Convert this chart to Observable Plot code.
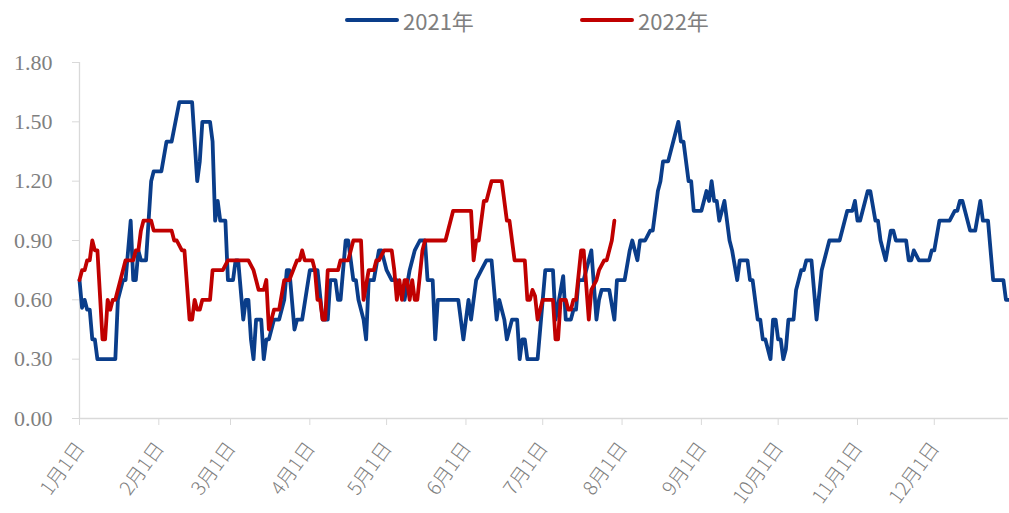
<!DOCTYPE html>
<html><head><meta charset="utf-8">
<script src="https://cdn.jsdelivr.net/npm/d3@7"></script>
<script src="https://cdn.jsdelivr.net/npm/@observablehq/plot@0.6"></script>
<style>
html,body{margin:0;padding:0;background:#fff;}
body{width:1009px;height:513px;overflow:hidden;font-family:"Noto Sans CJK SC","Noto Sans",sans-serif;}
#legend{position:relative;height:40px;}
.sw{position:absolute;top:18px;width:54px;height:4px;border-radius:2px;}
.lt{position:absolute;top:5px;font-size:22px;line-height:30px;color:#7f7f7f;}
#chart svg{display:block;}
</style></head><body>
<div id="legend"></div>
<div id="chart"></div>
<script>
// Day offsets from 1 January, with read values (2021 series)
const days2021 = [0,1,2,3,4,5,6,7,14,15,17,18,20,21,22,23,24,26,27,28,29,32,34,36,39,44,46,47,48,51,52,53,54,55,57,58,60,61,62,64,65,66,67,68,69,71,72,73,74,76,78,80,81,82,84,85,87,90,93,95,97,98,100,101,102,104,105,107,108,109,111,112,113,115,117,118,120,122,124,127,129,131,133,135,136,138,139,140,148,150,152,153,155,157,159,161,163,164,166,167,169,171,172,173,174,175,179,181,182,185,186,189,190,192,193,194,195,197,199,200,202,203,204,207,209,210,213,215,216,218,219,221,223,224,226,227,228,230,234,235,236,238,239,240,243,245,246,247,248,249,250,252,254,255,257,258,261,262,263,265,266,267,268,270,271,272,273,274,275,276,277,279,280,282,283,284,286,288,290,291,293,297,300,302,303,304,305,308,309,311,312,313,315,317,318,319,323,324,325,326,328,332,333,334,336,340,342,343,344,345,348,350,352,353,355,357,361,362,363];
const values2021 = [0.70,0.56,0.60,0.55,0.55,0.40,0.40,0.30,0.30,0.60,0.70,0.70,1.00,0.70,0.70,0.85,0.80,0.80,1.00,1.20,1.25,1.25,1.40,1.40,1.60,1.60,1.20,1.30,1.50,1.50,1.40,1.00,1.10,1.00,1.00,0.70,0.70,0.80,0.80,0.50,0.60,0.60,0.40,0.30,0.50,0.50,0.30,0.40,0.40,0.50,0.50,0.60,0.75,0.75,0.45,0.50,0.50,0.75,0.75,0.50,0.50,0.70,0.70,0.60,0.60,0.90,0.90,0.70,0.70,0.60,0.50,0.40,0.70,0.70,0.85,0.85,0.75,0.70,0.70,0.60,0.75,0.85,0.90,0.90,0.70,0.70,0.40,0.60,0.60,0.40,0.60,0.50,0.70,0.75,0.80,0.80,0.50,0.60,0.50,0.40,0.50,0.50,0.30,0.40,0.40,0.30,0.30,0.60,0.75,0.75,0.50,0.72,0.50,0.50,0.55,0.55,0.70,0.70,0.80,0.85,0.50,0.60,0.65,0.65,0.50,0.70,0.70,0.85,0.90,0.80,0.90,0.90,0.95,0.95,1.15,1.20,1.30,1.30,1.50,1.40,1.40,1.20,1.20,1.05,1.05,1.15,1.10,1.20,1.10,1.10,1.00,1.10,0.90,0.85,0.70,0.80,0.80,0.70,0.70,0.50,0.50,0.40,0.40,0.30,0.50,0.50,0.40,0.40,0.30,0.35,0.50,0.50,0.65,0.75,0.75,0.80,0.80,0.50,0.75,0.80,0.90,0.90,1.05,1.05,1.10,1.00,1.00,1.15,1.15,1.00,1.00,0.90,0.80,0.95,0.95,0.90,0.90,0.80,0.80,0.85,0.80,0.80,0.85,0.85,1.00,1.00,1.05,1.05,1.10,1.10,0.95,0.95,1.10,1.00,1.00,0.70,0.70,0.60,0.60];
// 2022 series
const days2022 = [0,1,2,3,4,5,6,7,9,10,11,12,13,14,18,21,22,23,24,25,28,29,36,37,38,40,41,43,44,45,46,47,48,51,52,56,58,66,68,69,70,72,73,74,76,78,80,82,85,86,87,88,91,92,93,94,95,96,97,101,102,105,107,110,111,113,115,116,117,119,122,123,124,125,126,127,128,129,130,131,132,134,135,143,146,153,154,155,156,158,159,161,165,167,168,170,174,175,176,177,178,179,181,185,186,187,188,190,191,192,193,194,196,197,199,200,202,203,205,206,207,208,209];
const values2022 = [0.70,0.75,0.75,0.80,0.80,0.90,0.85,0.85,0.40,0.40,0.60,0.55,0.60,0.60,0.80,0.80,0.85,0.85,0.95,1.00,1.00,0.95,0.95,0.90,0.90,0.85,0.85,0.50,0.50,0.60,0.55,0.55,0.60,0.60,0.75,0.75,0.80,0.80,0.75,0.70,0.65,0.65,0.70,0.45,0.55,0.55,0.70,0.70,0.80,0.80,0.85,0.80,0.80,0.75,0.60,0.60,0.50,0.50,0.75,0.75,0.80,0.80,0.90,0.90,0.60,0.75,0.75,0.80,0.80,0.85,0.85,0.75,0.60,0.70,0.60,0.70,0.70,0.60,0.70,0.60,0.60,0.85,0.90,0.90,1.05,1.05,0.80,0.90,0.90,1.10,1.10,1.20,1.20,1.00,1.00,0.80,0.80,0.60,0.60,0.65,0.62,0.50,0.60,0.60,0.40,0.40,0.60,0.60,0.55,0.55,0.60,0.60,0.85,0.85,0.50,0.65,0.70,0.75,0.80,0.80,0.85,0.90,1.00];
const seriesNames = ["2021年","2022年"];
const seriesColors = ["#0A3D8A","#C00000"];
const yTicks = [0,0.3,0.6,0.9,1.2,1.5,1.8];
const xTickLabels = ["1月1日","2月1日","3月1日","4月1日","5月1日","6月1日","7月1日","8月1日","9月1日","10月1日","11月1日","12月1日"];

const base = new Date(Date.UTC(2021,0,1));
const toDate = d => d3.utcDay.offset(base, d);
const rows = [];
days2021.forEach((d,i)=>rows.push({series:seriesNames[0], date:toDate(d), value:values2021[i]}));
days2022.forEach((d,i)=>rows.push({series:seriesNames[1], date:toDate(d), value:values2022[i]}));
const monthStarts = xTickLabels.map((_,m)=>new Date(Date.UTC(2021,m,1)));
const xEnd = toDate(363);

// legend
const lg = document.getElementById("legend");
const lgPos = [345, 580];
seriesNames.forEach((n,i)=>{
  const s=document.createElement("div"); s.className="sw"; s.style.left=lgPos[i]+"px"; s.style.background=seriesColors[i]; lg.appendChild(s);
  const t=document.createElement("div"); t.className="lt"; t.style.left=(lgPos[i]+58)+"px"; t.textContent=n; lg.appendChild(t);
});

const chart = Plot.plot({
  width:1009, height:473,
  marginLeft:79, marginRight:1, marginTop:22, marginBottom:95,
  x:{type:"utc", domain:[base, xEnd]},
  y:{domain:[0,1.8]},
  color:{domain:seriesNames, range:seriesColors},
  style:{background:"transparent", overflow:"visible"},
  marks:[
    Plot.ruleX([base], {y1:0, y2:1.8, stroke:"#d9d9d9", strokeWidth:1.3}),
    Plot.ruleY([0], {stroke:"#d9d9d9", strokeWidth:1.3}),
    Plot.axisY(yTicks, {tickSize:7, tickPadding:20, tickFormat:d=>d.toFixed(2), stroke:"#d9d9d9", fill:"#7f7f7f", fontSize:22, fontFamily:"Liberation Serif", label:null}),
    Plot.axisX(monthStarts, {tickSize:7, tickFormat:()=>"", stroke:"#d9d9d9", label:null}),
    Plot.axisX(monthStarts, {tickSize:0, tickPadding:26, dx:1, tickRotate:-54, tickFormat:d=>xTickLabels[d.getUTCMonth()], fill:"#7f7f7f", fontSize:19.5, fontWeight:300, fontFamily:"Noto Sans CJK SC", label:null}),
    Plot.line(rows.filter(r=>r.series===seriesNames[0]), {x:"date", y:"value", stroke:"series", strokeWidth:3.8, strokeLinejoin:"round", curve:"linear"}),
    Plot.line(rows.filter(r=>r.series===seriesNames[1]), {x:"date", y:"value", stroke:"series", strokeWidth:3.8, strokeLinejoin:"round", curve:"linear"})
  ]
});
document.getElementById("chart").appendChild(chart);
</script>
</body></html>
